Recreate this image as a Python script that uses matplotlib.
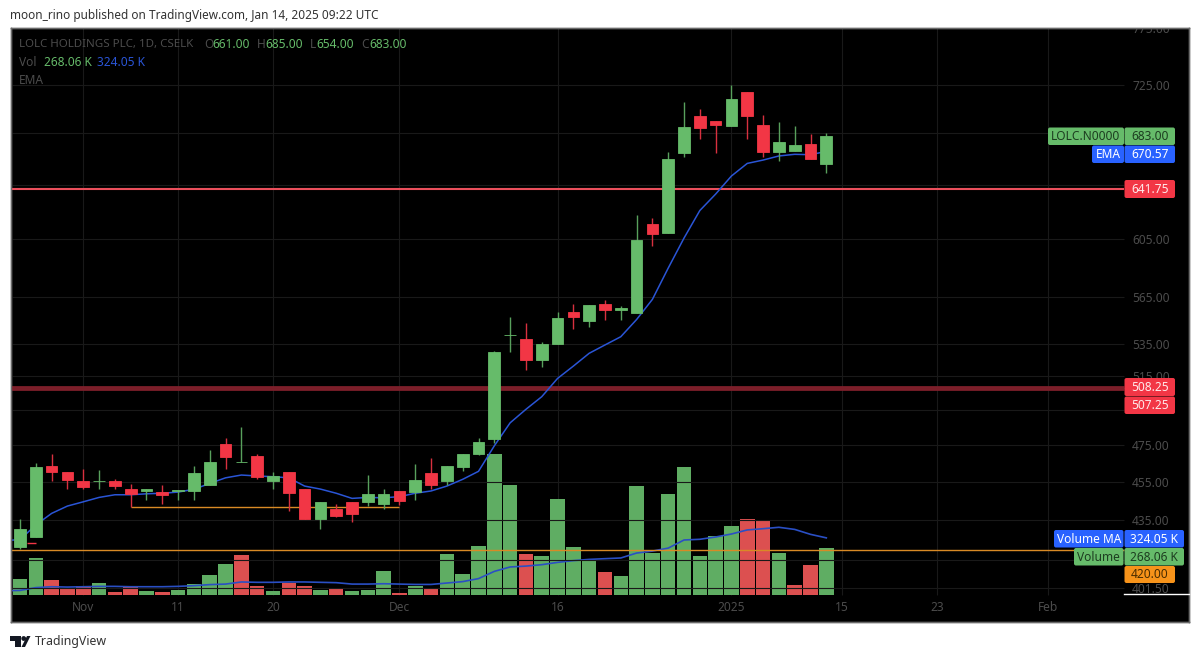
import matplotlib
matplotlib.use("Agg")
import matplotlib.pyplot as plt
from matplotlib.patches import FancyBboxPatch, Polygon, Circle, Rectangle

plt.rcParams['font.family'] = ['Noto Sans', 'DejaVu Sans']

# daily candles, index 0 = late Oct 2024
opens = [421.5, 426.25, 463.5, 460.25, 455.25, 455.5, 455.25, 451, 450, 449.5, 450, 450, 453, 475.25, 465.5, 468.75, 455.5,
         460.25, 451, 435.25, 440.5, 444.25, 444, 443, 450, 449.5, 459.5, 455.25, 463, 470, 478.25, 540.5, 538, 524.75, 534.75,
         555.25, 549.75, 560.25, 556.5, 554.75, 615.5, 609.5, 669.5, 699, 695.25, 690.75, 719.25, 692, 669.75, 671, 676.25, 661]
highs = [435.25, 465, 470.25, 460.25, 462, 461, 456.25, 453.5, 451.25, 453.25, 450.5, 463.5, 472.25, 478.75, 485, 470, 460.25,
         460.25, 451, 444.25, 443, 444.25, 458.5, 451, 450, 464.5, 467.5, 463.5, 470, 478.75, 530.5, 552, 548, 536.25, 555,
         560.25, 560, 563, 559.5, 622.25, 620.25, 670.25, 710.5, 704.5, 695.25, 725.25, 719.25, 700, 694.5, 691, 684.5, 685]
lows = [420.5, 426.25, 455.25, 451, 451, 451, 451, 441.75, 445.5, 443.25, 445.5, 445.5, 453, 461.5, 465.5, 456.25, 451.25,
        439.75, 435.25, 430.25, 436.5, 433.75, 442, 440.75, 442.5, 445.5, 451, 453.25, 460.5, 469.25, 476, 530, 519, 520.75, 534.75,
        544.5, 545.75, 550.25, 550.25, 554.75, 600, 609.5, 666, 680.25, 669.5, 690.75, 680.25, 666, 663, 671, 665, 654]
closes = [430.25, 462.75, 460, 455.75, 452, 455.5, 452.75, 448.5, 451.25, 448, 450.5, 459.5, 465.5, 468.25, 465.5, 457.25, 458,
          449, 435.25, 444.25, 437, 438, 448.25, 448.25, 444.75, 455.75, 453, 463.5, 470, 476.5, 529.5, 540.5, 524.75, 534.75, 551.25,
          552, 560, 556.5, 558, 604.5, 608.75, 665, 690, 689.25, 691.5, 713.25, 699.25, 670.25, 678.25, 675.5, 665, 683]
# both lines start one bar before the first visible candle
ema = [424.5, 425, 432.4, 438.3, 442.1, 444.3, 446.6, 448, 448, 448.5, 448.8, 449.4, 450.9, 454, 457, 458.5, 458, 457.6, 457, 452.6,
       451, 448.8, 446.1, 446.6, 446.4, 447, 448.8, 450, 452.6, 456.2, 460.5, 474.5, 487.5, 495.3, 502.7, 513.6, 521.1, 529,
       534.2, 539.4, 550.4, 563.6, 584.7, 605.7, 625.6, 637.8, 651.5, 661.2, 663.8, 667, 668.3, 668, 670.57]

# volume in thousands
volume = [89, 208, 83, 34, 51, 68, 15, 44, 21, 15, 26, 60, 115, 174, 229, 51, 25, 66, 51, 30, 42, 25, 30, 136, 9, 49, 40, 232,
          121, 280, 799, 624, 232, 223, 542, 270, 200, 130, 106, 618, 240, 574, 724, 221, 333, 389, 433, 423, 240, 59, 170, 268.06]
volume_up = [1, 1, 0, 0, 0, 1, 0, 0, 1, 0,
             1, 1, 1, 1, 0, 0, 1, 0, 0, 1,
             0, 1, 1, 1, 0, 1, 0, 1, 1, 1,
             1, 1, 0, 1, 1, 1, 1, 0, 1, 1,
             1, 1, 1, 1, 1, 1, 0, 0, 1, 0,
             0, 1]
volume_ma = [24, 26, 42, 47, 45, 47, 49, 49, 47, 47, 47, 49, 53, 59, 62, 74, 72, 72, 74, 74, 72, 70, 62, 62, 64, 62, 60, 60, 68,
             76, 93, 134, 159, 164, 172, 185, 195, 202, 206, 210, 238, 249, 266, 312, 316, 329, 346, 369, 376, 384, 372, 344, 324.05]

tick_idx = [4, 10, 16, 24, 34, 45, 52, 58, 65]
tick_names = ['Nov', '11', '20', 'Dec', '16', '2025', '15', '23', 'Feb']
price_ticks = [775, 725, 605, 565, 535, 515, 475, 455, 435, 401.5]
hidden_grid = [685, 645, 495, 415]

GREEN = '#66bb6a'
RED = '#f23645'
BLUE = '#2962ff'
ORANGE = '#f7931a'
DIM = '#4c4c4c'
GRID = '#191919'

fig = plt.figure(figsize=(12, 6.6), dpi=100, facecolor='white')
ax = fig.add_axes([11 / 1200, 38 / 660, 1178 / 1200, 594 / 660])
ax_vol = ax.twinx()
ax.set_zorder(ax_vol.get_zorder() + 1)
ax.patch.set_visible(False)
ax_vol.patch.set_visible(True)
ax_vol.patch.set_facecolor('black')

ax.set_yscale('log')
ax.set_ylim(385.8, 775.2)
ax.set_xlim(-0.57, 73.94)
ax_vol.set_ylim(-153, 3215)
ax_vol.set_yticks([])

xs = list(range(len(closes)))
line_xs = [-1] + xs

# grid first, behind everything
last_grid = 69.8
ax_vol.vlines(tick_idx, 0, 3215, color=GRID, lw=0.8, zorder=0)
ax.hlines(price_ticks + hidden_grid, -0.57, last_grid, color=GRID, lw=0.8, zorder=0)

# volume pane
vol_colors = ['#5fad63' if up else '#dc5050' for up in volume_up]
ax_vol.bar(xs, volume, width=0.92, color=vol_colors, zorder=2)
ax_vol.plot(line_xs, volume_ma, color='#2a4fc4', lw=1.2, zorder=3)

# drawn levels
ax.hlines(420, -0.57, last_grid, color='#d98a25', lw=1.0, zorder=2)
ax.hlines(441.75, 7, 24, color='#d98a25', lw=1.0, zorder=2)
ax.hlines([508.25, 507.25], -0.57, last_grid, color='#7d1f2a', lw=2.0, zorder=2)
ax.hlines(641.75, -0.57, last_grid, color='#ea4f5c', lw=1.5, zorder=2)

# ema goes under the candles
ax.plot(line_xs, ema, color='#2a55d6', lw=1.1, zorder=2.5)

# candles
colors = [GREEN if c >= o else RED for o, c in zip(opens, closes)]
wick_colors = ['#58a05c' if c >= o else '#d8303f' for o, c in zip(opens, closes)]
ax.vlines(xs, lows, highs, color=wick_colors, lw=1.0, zorder=3)
ax.bar(xs, [abs(c - o) for o, c in zip(opens, closes)], bottom=[min(o, c) for o, c in zip(opens, closes)],
       width=0.74, color=colors, edgecolor=colors, lw=0.6, zorder=4)
ax.hlines(423.5, 0.42, 1.0, color=RED, lw=1.0, zorder=5)

# axis labels sit inside the frame, tradingview style
ax.yaxis.tick_right()
ax.set_yticks(price_ticks)
ax.set_yticklabels(['%.2f' % p for p in price_ticks])
ax.minorticks_off()
ax.tick_params(axis='y', length=0, pad=-41, labelsize=8.6, labelcolor=DIM)
ax.set_xticks(tick_idx)
ax.set_xticklabels(tick_names)
ax.tick_params(axis='x', length=0, pad=-15, labelsize=8.6, labelcolor=DIM)
for lab in ax.get_yticklabels():
    lab.set_clip_box(ax.bbox)
    lab.set_clip_on(True)
for a in [ax, ax_vol]:
    for s in a.spines.values():
        s.set_color('#6a6a6a')
        s.set_linewidth(1.0)

# overlay in pixels for the tags and header text
ov = fig.add_axes([0, 0, 1, 1], zorder=10)
ov.set_xlim(0, 1200)
ov.set_ylim(660, 0)
ov.axis('off')
ov.patch.set_visible(False)


def tag(x0, x1, y0, y1, text, bg, fg):
    ov.add_patch(FancyBboxPatch((x0 + 1, y0 + 1), x1 - x0 - 2, y1 - y0 - 2, boxstyle='round,pad=1,rounding_size=2',
                                fc=bg, ec='none'))
    ov.text((x0 + x1) / 2, (y0 + y1) / 2 + 0.3, text, color=fg, fontsize=8.6, ha='center', va='center')


DARK_G = '#1d3d20'
tag(1048, 1124, 127.5, 145, 'LOLC.N0000', GREEN, DARK_G)
tag(1124.5, 1175, 127.5, 145, '683.00', GREEN, DARK_G)
tag(1092, 1124, 145.5, 163, 'EMA', BLUE, 'white')
tag(1124.5, 1175, 145.5, 163, '670.57', BLUE, 'white')
tag(1124.5, 1175, 180, 198, '641.75', RED, '#ffe9ea')
tag(1124.5, 1175, 378, 396, '508.25', RED, '#ffe9ea')
tag(1124.5, 1175, 396.5, 414, '507.25', RED, '#ffe9ea')
tag(1054, 1123.5, 530, 547.5, 'Volume MA', BLUE, 'white')
tag(1124.5, 1184, 530, 547.5, '324.05 K', BLUE, 'white')
tag(1074, 1123.5, 548, 565.5, 'Volume', GREEN, DARK_G)
tag(1124.5, 1184, 548, 565.5, '268.06 K', GREEN, DARK_G)
tag(1124.5, 1175, 566, 583, '420.00', ORANGE, '#4a2c00')
ov.plot([1124, 1189], [594.3, 594.3], color='white', lw=1.0)

# header
ov.text(10, 15, 'moon_rino published on TradingView.com, Jan 14, 2025 09:22 UTC', color='#333333', fontsize=8.5, va='center')
ov.text(19, 44, 'LOLC HOLDINGS PLC, 1D, CSELK', color=DIM, fontsize=8.3, va='center')
for x, s, col in [(204, 'O', DIM), (212, '661.00', GREEN), (257, 'H', DIM), (265, '685.00', GREEN),
                  (310, 'L', DIM), (316, '654.00', GREEN), (361, 'C', DIM), (369, '683.00', GREEN)]:
    ov.text(x, 44, s, color=col, fontsize=8.6, va='center')
ov.text(19, 62, 'Vol', color=DIM, fontsize=8.6, va='center')
ov.text(43.5, 62, '268.06 K', color=GREEN, fontsize=8.6, va='center')
ov.text(97, 62, '324.05 K', color='#2a55d6', fontsize=8.6, va='center')
ov.text(19, 80, 'EMA', color=DIM, fontsize=8.6, va='center')

# watermark
ov.add_patch(Rectangle((10, 636), 11, 5, fc='#131722', ec='none'))
ov.add_patch(Rectangle((15, 636), 6, 11, fc='#131722', ec='none'))
ov.add_patch(Circle((23.7, 638.5), 2.4, fc='#131722', ec='none'))
ov.add_patch(Polygon([(27, 636), (30.5, 636), (25, 647), (21.5, 647)], fc='#131722', ec='none'))
ov.text(35, 642, 'TradingView', color='#333333', fontsize=8.9, va='center')

fig.savefig('out.png', dpi=100)
